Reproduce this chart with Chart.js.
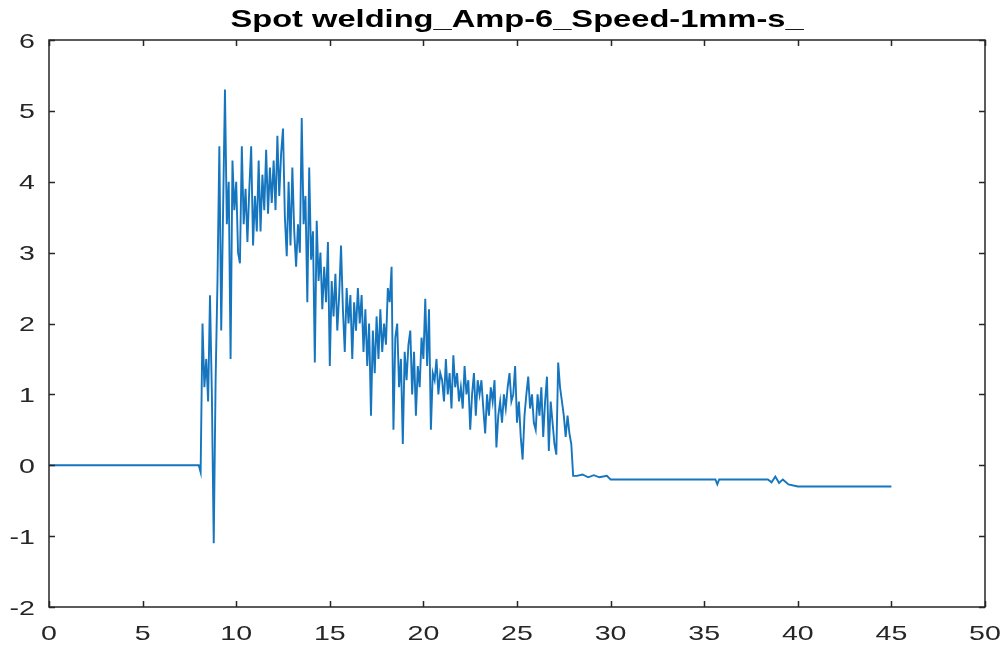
<!DOCTYPE html>
<html>
<head>
<meta charset="utf-8">
<script src="https://cdn.jsdelivr.net/npm/chart.js@4/dist/chart.umd.min.js"></script>
<style>
  body { margin: 0; background: #fff; }
  canvas { display: block; }
</style>
</head>
<body>
<canvas id="weldChart" width="1008" height="647"></canvas>
<script>
// Chart data
const chartTitle = 'Spot welding_Amp-6_Speed-1mm-s_';
const xTicks = [0, 5, 10, 15, 20, 25, 30, 35, 40, 45, 50];
const yTicks = [-2, -1, 0, 1, 2, 3, 4, 5, 6];

const times = [
    0,
    8.0, 8.1, 8.2, 8.3, 8.4, 8.5, 8.6, 8.7, 8.8, 8.9,
    9.0, 9.1, 9.2, 9.3, 9.4, 9.5, 9.6, 9.7, 9.8, 9.9,
    10.0, 10.1, 10.2, 10.3, 10.4, 10.5, 10.6, 10.7, 10.8, 10.9,
    11.0, 11.1, 11.2, 11.3, 11.4, 11.5, 11.6, 11.7, 11.8, 11.9,
    12.0, 12.1, 12.2, 12.3, 12.4, 12.5, 12.6, 12.7, 12.8, 12.9,
    13.0, 13.1, 13.2, 13.3, 13.4, 13.5, 13.6, 13.7, 13.8, 13.9,
    14.0, 14.1, 14.2, 14.3, 14.4, 14.5, 14.6, 14.7, 14.8, 14.9,
    15.0, 15.1, 15.2, 15.3, 15.4, 15.5, 15.6, 15.7, 15.8, 15.9,
    16.0, 16.1, 16.2, 16.3, 16.4, 16.5, 16.6, 16.7, 16.8, 16.9,
    17.0, 17.1, 17.2, 17.3, 17.4, 17.5, 17.6, 17.7, 17.8, 17.9,
    18.0, 18.1, 18.2, 18.3, 18.4, 18.5, 18.6, 18.7, 18.8, 18.9,
    19.0, 19.1, 19.2, 19.3, 19.4, 19.5, 19.6, 19.7, 19.8, 19.9,
    20.0, 20.1, 20.2, 20.3, 20.4, 20.5, 20.6, 20.7, 20.8, 20.9,
    21.0, 21.1, 21.2, 21.3, 21.4, 21.5, 21.6, 21.7, 21.8, 21.9,
    22.0, 22.1, 22.2, 22.3, 22.4, 22.5, 22.6, 22.7, 22.8, 22.9,
    23.0, 23.1, 23.2, 23.3, 23.4, 23.5, 23.6, 23.7, 23.8, 23.9,
    24.0, 24.1, 24.2, 24.3, 24.4, 24.5, 24.6, 24.7, 24.8, 24.9,
    25.0, 25.1, 25.2, 25.3, 25.4, 25.5, 25.6, 25.7, 25.8, 25.9,
    26.0, 26.1, 26.2, 26.3, 26.4, 26.5, 26.6, 26.7, 26.8, 26.9,
    27.0, 27.1, 27.2, 27.3, 27.4, 27.5, 27.6, 27.7, 27.8, 27.9,
    28.0, 28.2, 28.5, 28.8, 29.1, 29.4, 29.8, 30.0,
    35.6, 35.7, 35.8, 38.4, 38.6, 38.8, 39.0, 39.2, 39.5, 40.0, 45.0
];

const signal = [
    0,
    0, -0.1, 2.0, 1.1, 1.5, 0.9, 2.4, 1.0, -1.1, 1.2,
    2.6, 4.5, 1.9, 3.6, 5.3, 3.4, 4.0, 1.5, 4.3, 3.6,
    4.0, 3.0, 2.85, 4.5, 3.4, 3.9, 3.15, 3.9, 4.5, 3.1,
    3.8, 3.3, 4.3, 3.3, 4.1, 3.6, 4.45, 3.55, 4.2, 3.7,
    4.3, 3.6, 4.65, 3.8, 4.4, 4.75, 3.5, 2.95, 4.0, 3.1,
    4.2, 3.3, 2.8, 3.4, 3.0, 4.9, 3.4, 3.8, 2.3, 4.2,
    2.9, 3.3, 1.45, 3.45, 2.6, 3.0, 2.2, 2.8, 2.3, 3.15,
    1.4, 2.6, 2.1, 2.7, 1.9, 2.4, 3.1, 2.2, 1.6, 2.5,
    2.0, 2.4, 1.5, 2.3, 1.9, 2.5, 2.0, 2.4, 1.6, 2.2,
    1.4, 2.0, 0.7, 1.9, 1.3, 2.1, 1.5, 2.2, 1.6, 2.0,
    1.7, 2.5, 2.3, 2.8, 0.5, 1.8, 2.0, 1.1, 1.5, 0.3,
    1.6, 1.2, 1.7, 1.9, 1.0, 1.6, 0.7, 1.4, 1.1, 1.8,
    1.5, 2.35, 1.4, 2.2, 0.5, 1.3, 1.2, 1.5, 1.0, 1.3,
    1.2, 0.9, 1.5, 1.0, 1.3, 0.8, 1.55, 1.1, 1.3, 0.9,
    1.1, 0.8, 1.4, 1.0, 1.2, 0.5, 1.0, 1.3, 0.7, 1.2,
    1.0, 1.2, 0.8, 0.45, 1.0, 0.7, 1.1, 0.9, 1.2, 0.25,
    0.7, 0.9, 0.6, 1.0, 0.8, 1.1, 1.3, 0.9, 1.0, 1.4,
    0.6, 0.9, 0.4, 0.08, 0.7, 1.0, 1.25, 0.8, 1.0, 0.6,
    0.5, 1.0, 0.7, 1.1, 0.4, 0.9, 1.25, 0.2, 0.9, 0.6,
    0.3, 0.15, 1.45, 1.1, 0.9, 0.7, 0.4, 0.7, 0.45, 0.3,
    -0.15, -0.15, -0.13, -0.17, -0.14, -0.17, -0.15, -0.2,
    -0.2, -0.27, -0.2, -0.2, -0.24, -0.16, -0.25, -0.2, -0.27, -0.3, -0.3
];

const points = times.map((t, i) => ({ x: t, y: signal[i] }));

// MATLAB-like look: box, inward ticks, horizontally stretched text
const axisColor = '#262626';
const textStretch = 1.36;

const matlabAxes = {
    id: 'matlabAxes',
    afterDraw(chart) {
        const ctx = chart.ctx;
        const area = chart.chartArea;
        const xs = chart.scales.x;
        const ys = chart.scales.y;
        const tickLen = 6;

        ctx.save();
        ctx.strokeStyle = axisColor;
        ctx.lineWidth = 1.5;
        ctx.strokeRect(area.left, area.top, area.right - area.left, area.bottom - area.top);

        ctx.beginPath();
        xTicks.forEach(v => {
            const px = Math.round(xs.getPixelForValue(v)) + 0.5;
            ctx.moveTo(px, area.bottom);
            ctx.lineTo(px, area.bottom - tickLen);
            ctx.moveTo(px, area.top);
            ctx.lineTo(px, area.top + tickLen);
        });
        yTicks.forEach(v => {
            const py = Math.round(ys.getPixelForValue(v)) + 0.5;
            ctx.moveTo(area.left, py);
            ctx.lineTo(area.left + tickLen, py);
            ctx.moveTo(area.right, py);
            ctx.lineTo(area.right - tickLen, py);
        });
        ctx.stroke();

        ctx.fillStyle = axisColor;
        ctx.font = '21px "Liberation Sans", Arial, sans-serif';
        ctx.textBaseline = 'alphabetic';

        ctx.textAlign = 'center';
        xTicks.forEach(v => {
            ctx.save();
            ctx.translate(xs.getPixelForValue(v), area.bottom + 33);
            ctx.scale(textStretch, 1);
            ctx.fillText(String(v), 0, 0);
            ctx.restore();
        });

        ctx.textAlign = 'right';
        yTicks.forEach(v => {
            ctx.save();
            ctx.translate(area.left - 14, ys.getPixelForValue(v) + 7.5);
            ctx.scale(textStretch, 1);
            ctx.fillText(String(v), 0, 0);
            ctx.restore();
        });

        // Title
        ctx.fillStyle = '#000';
        ctx.font = 'bold 24px "Liberation Sans", Arial, sans-serif';
        ctx.textAlign = 'center';
        ctx.save();
        ctx.translate((area.left + area.right) / 2, 27);
        ctx.scale(1.36, 1);
        ctx.fillText(chartTitle, 0, 0);
        ctx.restore();

        ctx.restore();
    }
};

const weldCtx = document.getElementById('weldChart').getContext('2d');
new Chart(weldCtx, {
    type: 'line',
    data: {
        datasets: [{
            label: 'Signal',
            data: points,
            borderColor: '#1575BE',
            borderWidth: 1.9,
            pointRadius: 0,
            tension: 0,
            fill: false
        }]
    },
    options: {
        responsive: false,
        animation: false,
        layout: {
            padding: { left: 49, right: 23, top: 40, bottom: 40 }
        },
        scales: {
            x: { type: 'linear', display: false, min: 0, max: 50 },
            y: { type: 'linear', display: false, min: -2, max: 6 }
        },
        plugins: {
            legend: { display: false },
            tooltip: { enabled: false }
        }
    },
    plugins: [matlabAxes]
});
</script>
</body>
</html>
